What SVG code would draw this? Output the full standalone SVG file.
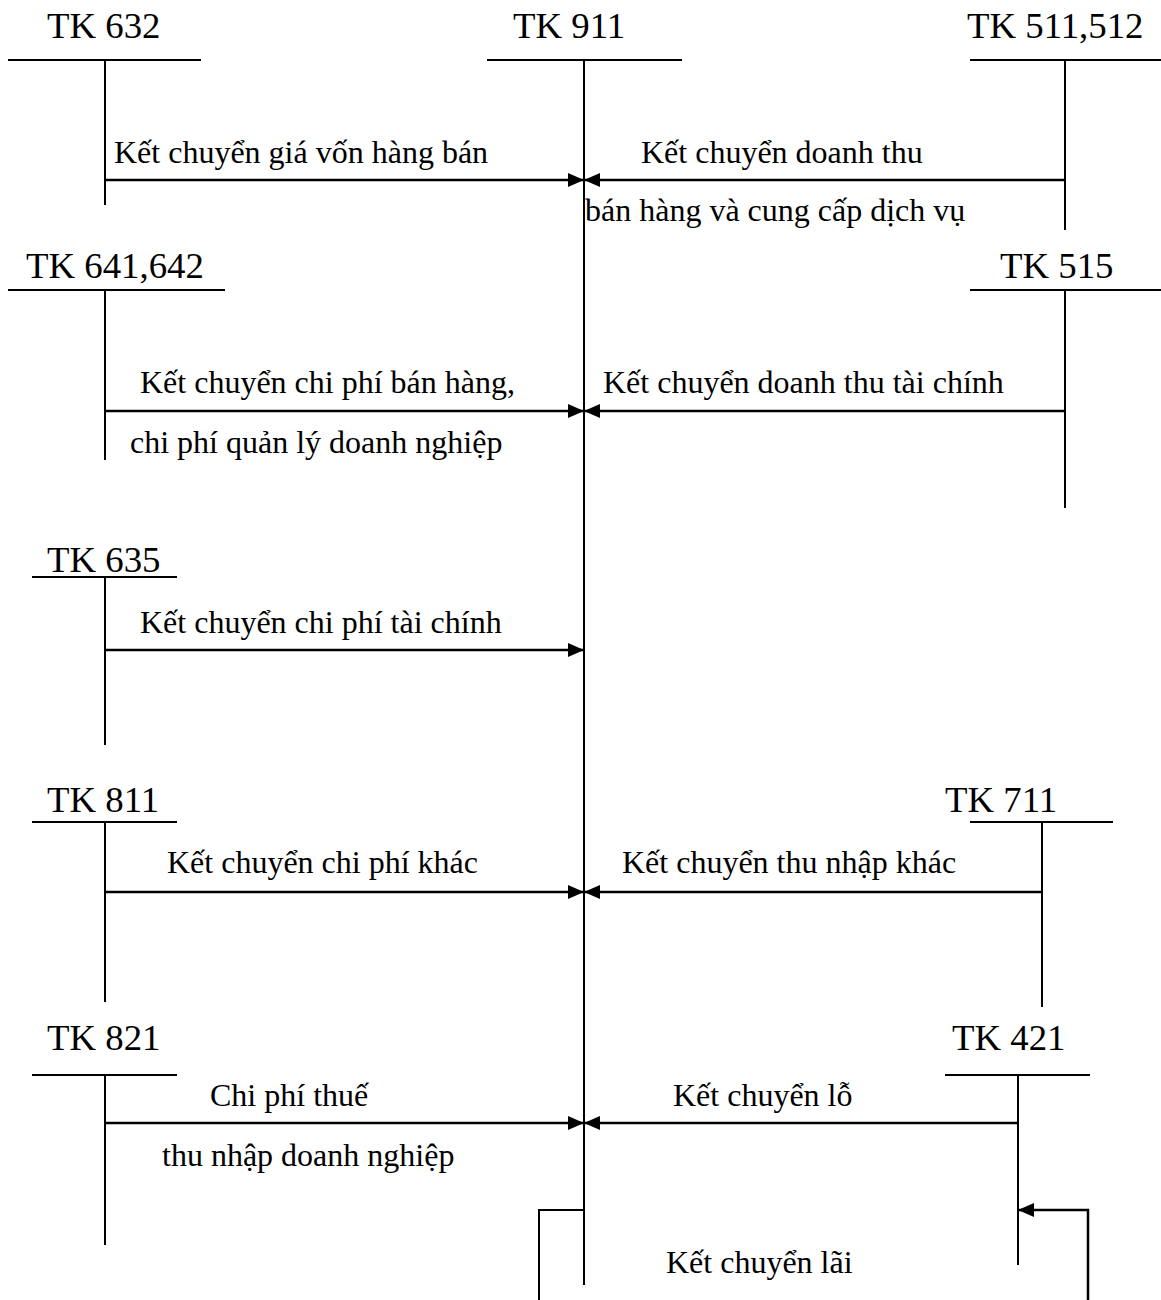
<svg xmlns="http://www.w3.org/2000/svg" width="1161" height="1300" viewBox="0 0 1161 1300">
<style>
.tk{font-family:"Liberation Serif","Times New Roman",serif;font-size:36.8px;fill:#000}
.lb{font-family:"Liberation Serif","Times New Roman",serif;font-size:32px;fill:#000}
.ln{stroke:#000;stroke-width:2;fill:none}
.ar{stroke:#000;stroke-width:2.5;fill:none}
</style>
<defs>
<marker id="ah" viewBox="0 0 16 14" refX="16" refY="7" markerWidth="16" markerHeight="14" markerUnits="userSpaceOnUse" orient="auto">
<path d="M0,0 L16,7 L0,14 Z" fill="#000"/>
</marker>
</defs>
<rect width="1161" height="1300" fill="#fff"/>
<g id="tk911">
<text class="tk" x="513" y="38">TK 911</text>
<line class="ln" x1="487" y1="60" x2="682" y2="60"/>
<line class="ln" x1="584" y1="60" x2="584" y2="1285"/>
</g>
<g id="tk632">
<text class="tk" x="47" y="38">TK 632</text>
<line class="ln" x1="8" y1="60" x2="201" y2="60"/>
<line class="ln" x1="105" y1="60" x2="105" y2="205"/>
</g>
<g id="tk511">
<text class="tk" x="967" y="38">TK 511,512</text>
<line class="ln" x1="970" y1="60" x2="1161" y2="60"/>
<line class="ln" x1="1065" y1="60" x2="1065" y2="230"/>
</g>
<g id="tk641">
<text class="tk" x="26" y="278">TK 641,642</text>
<line class="ln" x1="8" y1="290" x2="225" y2="290"/>
<line class="ln" x1="105" y1="290" x2="105" y2="460"/>
</g>
<g id="tk515">
<text class="tk" x="1000" y="278">TK 515</text>
<line class="ln" x1="970" y1="290" x2="1161" y2="290"/>
<line class="ln" x1="1065" y1="290" x2="1065" y2="508"/>
</g>
<g id="tk635">
<text class="tk" x="47" y="572">TK 635</text>
<line class="ln" x1="32" y1="577" x2="177" y2="577" stroke-width="1.5"/>
<line class="ln" x1="105" y1="577" x2="105" y2="745"/>
</g>
<g id="tk811">
<text class="tk" x="47" y="812">TK 811</text>
<line class="ln" x1="32" y1="822" x2="177" y2="822"/>
<line class="ln" x1="105" y1="822" x2="105" y2="1002"/>
</g>
<g id="tk711">
<text class="tk" x="945" y="812">TK 711</text>
<line class="ln" x1="970" y1="822" x2="1113" y2="822"/>
<line class="ln" x1="1042" y1="822" x2="1042" y2="1007"/>
</g>
<g id="tk821">
<text class="tk" x="47" y="1050">TK 821</text>
<line class="ln" x1="32" y1="1075" x2="177" y2="1075"/>
<line class="ln" x1="105" y1="1075" x2="105" y2="1245"/>
</g>
<g id="tk421">
<text class="tk" x="952" y="1050">TK 421</text>
<line class="ln" x1="945" y1="1075" x2="1090" y2="1075"/>
<line class="ln" x1="1018" y1="1075" x2="1018" y2="1265"/>
</g>
<g id="connectors">
<line class="ar" x1="105" y1="180" x2="584" y2="180" marker-end="url(#ah)"/>
<line class="ar" x1="1065" y1="180" x2="584" y2="180" marker-end="url(#ah)"/>
<line class="ar" x1="105" y1="411" x2="584" y2="411" marker-end="url(#ah)"/>
<line class="ar" x1="1065" y1="411" x2="584" y2="411" marker-end="url(#ah)"/>
<line class="ar" x1="105" y1="650" x2="584" y2="650" marker-end="url(#ah)"/>
<line class="ar" x1="105" y1="892" x2="584" y2="892" marker-end="url(#ah)"/>
<line class="ar" x1="1042" y1="892" x2="584" y2="892" marker-end="url(#ah)"/>
<line class="ar" x1="105" y1="1123" x2="584" y2="1123" marker-end="url(#ah)"/>
<line class="ar" x1="1018" y1="1123" x2="584" y2="1123" marker-end="url(#ah)"/>
<polyline class="ln" points="584,1210 539,1210 539,1300"/>
<polyline class="ar" points="1088,1300 1088,1210 1018,1210" marker-end="url(#ah)"/>
</g>
<g id="labels">
<text class="lb" x="114" y="163">Kết chuyển giá vốn hàng bán</text>
<text class="lb" x="641" y="163">Kết chuyển doanh thu</text>
<text class="lb" x="585" y="221">bán hàng và cung cấp dịch vụ</text>
<text class="lb" x="140" y="393">Kết chuyển chi phí bán hàng,</text>
<text class="lb" x="130" y="453">chi phí quản lý doanh nghiệp</text>
<text class="lb" x="603" y="393">Kết chuyển doanh thu tài chính</text>
<text class="lb" x="140" y="633">Kết chuyển chi phí tài chính</text>
<text class="lb" x="167" y="873">Kết chuyển chi phí khác</text>
<text class="lb" x="622" y="873">Kết chuyển thu nhập khác</text>
<text class="lb" x="210" y="1106">Chi phí thuế</text>
<text class="lb" x="162" y="1166">thu nhập doanh nghiệp</text>
<text class="lb" x="673" y="1106">Kết chuyển lỗ</text>
<text class="lb" x="666" y="1273">Kết chuyển lãi</text>
</g>
</svg>
